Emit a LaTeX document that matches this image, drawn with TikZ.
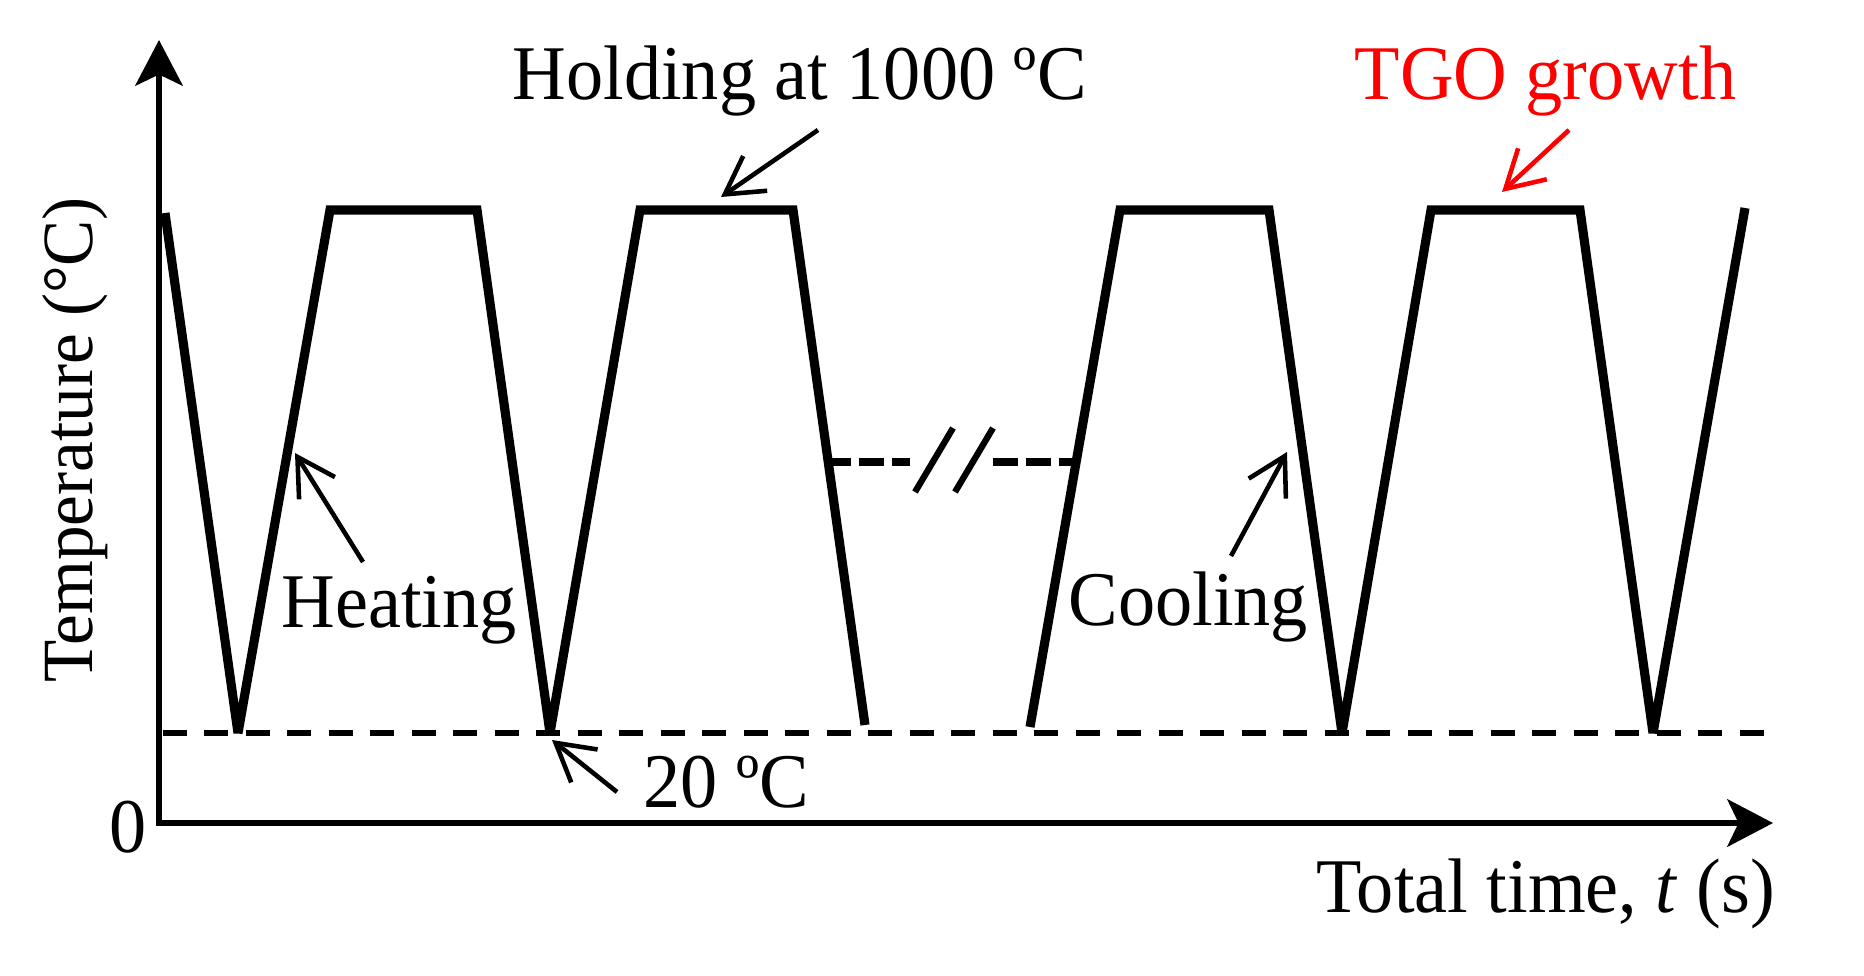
\documentclass[tikz,border=0pt]{standalone}
\usepackage{fontspec}
\setmainfont{Liberation Serif}[FakeStretch=0.96]
\usetikzlibrary{arrows.meta}
\begin{document}
\begin{tikzpicture}[x=0.01cm,y=-0.01cm,
  lbl/.style={inner sep=0pt, anchor=base west, font=\fontsize{22}{26}\selectfont},
  axisline/.style={line width=1.6pt},
  wave/.style={line width=2.6pt, line join=miter, miter limit=2},
  base20/.style={line width=1.6pt, dash pattern=on 6.8pt off 5pt},
  middash/.style={line width=2.1pt, dash pattern=on 7pt off 2.4pt},
  brk/.style={line width=1.8pt},
  pointer/.style={line width=1.3pt, -{Straight Barb[length=10.5pt,width=12pt]}},
]
\useasboundingbox (0,0) rectangle (1864,976);

% axes
\coordinate (O) at (159,823);
\coordinate (ytip) at (159,40);
\coordinate (xtip) at (1773,823);
\draw[axisline, {Stealth[length=13pt,width=13.5pt,inset=3.2pt]}-{Stealth[length=13pt,width=13.5pt,inset=3.2pt]}] (ytip) -- (O) -- (xtip);

% 20 C dashed baseline
\coordinate (b0) at (163,733);
\coordinate (b1) at (1777,733);
\draw[base20] (b0) -- (b1);

% waveform, first group
\coordinate (s0) at (165,213);
\coordinate (v1) at (238,733);
\coordinate (p1l) at (330,210);
\coordinate (p1r) at (477,210);
\coordinate (v2) at (550,733);
\coordinate (p2l) at (640,210);
\coordinate (p2r) at (793,210);
\coordinate (e1) at (865,725);
\draw[wave] (s0) -- (v1) -- (p1l) -- (p1r) -- (v2) -- (p2l) -- (p2r) -- (e1);

% waveform, second group
\coordinate (s2) at (1030,727);
\coordinate (p3l) at (1120,210);
\coordinate (p3r) at (1269,210);
\coordinate (v3) at (1342,733);
\coordinate (p4l) at (1431,210);
\coordinate (p4r) at (1580,210);
\coordinate (v4) at (1653,733);
\coordinate (e2) at (1745,208);
\draw[wave] (s2) -- (p3l) -- (p3r) -- (v3) -- (p4l) -- (p4r) -- (v4) -- (e2);

% middle dashed break
\coordinate (m0) at (826,462);
\coordinate (m1) at (910,462);
\coordinate (m2) at (993,462);
\coordinate (m3) at (1076,462);
\draw[middash] (m0) -- (m1);
\draw[middash] (m2) -- (m3);
\coordinate (k1a) at (915,492);
\coordinate (k1b) at (953,428);
\coordinate (k2a) at (955,492);
\coordinate (k2b) at (993,428);
\draw[brk] (k1a) -- (k1b);
\draw[brk] (k2a) -- (k2b);

% labels
\node[lbl] (hold) at (512,100) {Holding at 1000 ºC};
\node[lbl, text=red] (tgo) at (1354,100) {TGO growth};
\node[lbl] (heat) at (281,627) {Heating};
\node[lbl] (cool) at (1068,625) {Cooling};
\node[lbl] (t20) at (643,807) {20 ºC};
\node[lbl] (zero) at (109,852) {0};
\node[lbl] (xlab) at (1316,912) {Total time, \textit{t} (s)};
\node[inner sep=0pt, anchor=base, rotate=90, font=\fontsize{20.5}{24}\selectfont] (ylab) at (92,440) {Temperature (°C)};

% pointers
\coordinate (hA) at (818,130); \coordinate (hB) at (721,197);
\draw[pointer] (hA) -- (hB);
\coordinate (gA) at (1569,130); \coordinate (gB) at (1502,192);
\draw[pointer, red] (gA) -- (gB);
\coordinate (htA) at (363,562); \coordinate (htB) at (295,453);
\draw[pointer] (htA) -- (htB);
\coordinate (cA) at (1231,556); \coordinate (cB) at (1287,452);
\draw[pointer] (cA) -- (cB);
\coordinate (tA) at (617,792); \coordinate (tB) at (552,740);
\draw[pointer] (tA) -- (tB);
\end{tikzpicture}
\end{document}
